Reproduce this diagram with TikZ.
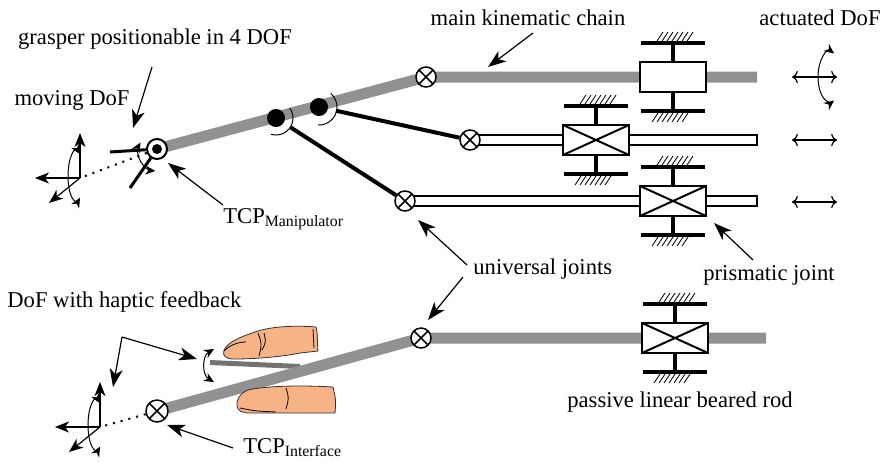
\documentclass[tikz,border=0pt]{standalone}
\usepackage{fontspec}
\setmainfont{Liberation Serif}
\usetikzlibrary{arrows.meta}

\definecolor{rodgray}{RGB}{145,145,145}
\definecolor{skin}{RGB}{247,178,133}

\pgfdeclarelayer{background}
\pgfsetlayers{background,main}

% linear guide fixed to the ground, centred at (#1,#2)
\newcommand\guide[2]{%
  \begin{scope}[shift={(#1,#2)}]
    \draw[guidebar] (0,-34) -- (0,34);
    \draw[guidebar] (-32,-34) -- (32,-34);
    \draw[guidebar] (-32,34) -- (32,34);
    \foreach \h in {-16,-11,...,14} \draw[hatchline] (\h,-36) -- ++(6,-9);
    \foreach \h in {-21,-16,...,9} \draw[hatchline] (\h,45) -- ++(6,-9);
    \draw[boxline] (-33,-15) rectangle (33,15);
  \end{scope}}
% same, with the crossed box
\newcommand\xguide[2]{%
  \guide{#1}{#2}
  \draw[boxline,shift={(#1,#2)}] (-33,-15) -- (33,15) (-33,15) -- (33,-15);}

% translations and rotation at a tool point, origin (#1,#2)
\newcommand\dofframe[2]{%
  \begin{scope}[shift={(#1,#2)}]
    \draw[dofarrow] (0,0) -- (0,-45);
    \draw[dofarrow] (0,0) -- (-45,0);
    \draw[dofarrow] (0,0) -- (-31,25);
    \draw[spin] ([shift={(60:4pt and 12.5pt)}]-4,-2)
      arc[start angle=60,end angle=300,x radius=4pt,y radius=12.5pt];
  \end{scope}}

\begin{document}
\begin{tikzpicture}[x=0.5pt,y=-0.5pt,
  font=\fontsize{11.3}{13}\selectfont,
  rod/.style={line width=5.5pt,rodgray},
  tube/.style={draw,line width=0.75pt,fill=white},
  link/.style={line width=2pt},
  jaw/.style={line width=1.5pt},
  ball/.style={circle,fill=black,inner sep=0pt,minimum size=9pt},
  tcp/.style={circle,draw,line width=1pt,fill=white,inner sep=0pt,minimum size=10pt},
  ujoint/.style={circle,draw,line width=0.75pt,fill=white,inner sep=0pt,minimum size=10pt,
    path picture={\draw[line width=0.75pt]
      (path picture bounding box.north west) -- (path picture bounding box.south east)
      (path picture bounding box.south west) -- (path picture bounding box.north east);}},
  guidebar/.style={line width=2pt},
  boxline/.style={line width=1pt,fill=white},
  hatchline/.style={line width=0.4pt},
  pointer/.style={line width=0.6pt,-{Stealth[length=9pt,width=6.5pt,inset=2.5pt]}},
  dofarrow/.style={line width=0.6pt,-{Stealth[length=7pt,width=5.5pt,inset=2pt]}},
  spin/.style={line width=0.5pt,{Stealth[length=5pt,width=4.5pt]}-{Stealth[length=5pt,width=4.5pt]}},
  dotline/.style={line width=1pt,dash pattern=on 1pt off 3pt},
  finger/.style={fill=skin,draw=black!80,line width=0.4pt}]

\useasboundingbox (0,0) rectangle (881,462);

% manipulator joints
\node[tcp] (tcpm) at (157,149) {};
\fill (tcpm) circle (2.5pt);
\node[ujoint] (u1) at (426,77) {};
\node[ujoint] (u2) at (470,140) {};
\node[ujoint] (u3) at (405,201) {};
\node[ball] (b1) at (276,118) {};
\node[ball] (b2) at (319,107) {};
\coordinate (endm) at (757,77);

% interface joints
\node[ujoint,minimum size=11pt] (tcpi) at (157,411) {};
\node[ujoint] (u4) at (421,338) {};
\coordinate (endi) at (766,338);

\begin{pgfonlayer}{background}
  \fill[black!55] (210,360) -- (300,364) -- (300,369) -- (210,365) -- cycle;
  \draw[rod] (tcpm.center) -- (u1.center) -- (endm);
  \draw[rod] (tcpi.center) -- (u4.center) -- (endi);
  \draw[tube] ([yshift=2.5pt]u2.center) rectangle (757,145);
  \draw[tube] ([yshift=2.5pt]u3.center) rectangle (757,206);
  \draw[link,shorten <=4pt] (b1) -- (u3);
  \draw[link,shorten <=4pt] (b2) -- (u2);
\end{pgfonlayer}

% revolute joints on the main chain
\draw[line width=0.5pt] ([shift={(-107:8.5pt)}]b1.center) arc[start angle=-107,end angle=36,radius=8.5pt];
\draw[line width=0.5pt] ([shift={(-93:9pt)}]b2.center) arc[start angle=-93,end angle=49,radius=9pt];

% guides
\guide{673}{77}
\xguide{596}{140}
\xguide{673}{201}
\xguide{675}{338}

% grasper
\coordinate (jaw1) at (110,152);
\coordinate (jaw2) at (130,188);
\draw[jaw] (jaw1) -- (tcpm);
\draw[jaw] (jaw2) -- (tcpm);
\draw[spin] ([shift={(150:9.5pt)}]157,152) arc[start angle=150,end angle=265,radius=9.5pt];
\coordinate (fm) at (80,178);
\draw[dotline] (tcpm) -- (fm);
\dofframe{80}{178}

% interface side
\coordinate (fi) at (100,427);
\draw[dotline] (tcpi) -- (fi);
\dofframe{100}{427}
\draw[spin] (214,349) .. controls (202,356) and (202,375) .. (214,382);

% fingers
\filldraw[finger] (316,327) .. controls (292,325) and (268,327) .. (255,332)
  .. controls (240,337) and (228,342) .. (224,350)
  .. controls (222,356) and (226,359) .. (234,359)
  .. controls (258,359) and (286,356) .. (300,353)
  -- (318,351) .. controls (317,342) and (318,334) .. (316,327) -- cycle;
\draw[line width=0.4pt] (258,333) .. controls (262,344) .. (259,356)
  (264,333) .. controls (266,342) .. (262,350)
  (313,329) -- (314,348)
  (224,351) .. controls (230,345) and (238,342) .. (246,342);
\filldraw[finger] (333,387) .. controls (300,385) and (265,386) .. (248,390)
  .. controls (240,393) and (236,400) .. (237,406)
  .. controls (238,411) and (242,413) .. (250,413)
  -- (335,413) .. controls (336,400) .. (333,387) -- cycle;
\draw[line width=0.4pt] (286,388) .. controls (289,398) .. (286,409)
  (240,408) .. controls (255,411) .. (276,412);

% actuated degrees of freedom
\draw[dofarrow,<->] (792,77) -- (837,77);
\draw[spin] ([shift={(70:6pt and 12.5pt)}]830,77) arc[start angle=70,end angle=290,x radius=6pt,y radius=12.5pt];
\draw[dofarrow,<->] (792,140) -- (837,140);
\draw[dofarrow,<->] (792,202) -- (837,202);

% labels
\node (lgrasp) at (155,39) {grasper positionable in 4 DOF};
\node (lmoving) at (72,100) {moving DoF};
\node[anchor=base west,inner sep=0pt] (ltcpm) at (223,223) {TCP\textsubscript{Manipulator}};
\node (lmain) at (528,18) {main kinematic chain};
\node (lact) at (820,18) {actuated DoF};
\node[anchor=west,inner sep=0pt] (luniv) at (473,269) {universal joints};
\node[anchor=west,inner sep=0pt] (lprism) at (703,275) {prismatic joint};
\node[anchor=west,inner sep=0pt] (lhaptic) at (7,302) {DoF with haptic feedback};
\node (lpassive) at (680,402) {passive linear beared rod};
\node[anchor=base west,inner sep=0pt] (ltcpi) at (243,453) {TCP\textsubscript{Interface}};

% pointers
\coordinate (pg0) at (152,67);   \coordinate (pg1) at (133,128);
\coordinate (pt0) at (223,205);  \coordinate (pt1) at (168,163);
\coordinate (pm0) at (533,33);   \coordinate (pm1) at (488,67);
\coordinate (pu0) at (467,265);  \coordinate (pu1) at (418,220);
\coordinate (pu2) at (463,277);  \coordinate (pu3) at (428,320);
\coordinate (pp0) at (753,260);  \coordinate (pp1) at (714,223);
\coordinate (ph0) at (122,337);  \coordinate (ph1) at (197,359);
\coordinate (ph2) at (113,387);
\coordinate (pi0) at (233,448);  \coordinate (pi1) at (167,425);
\draw[pointer] (pg0) -- (pg1);
\draw[pointer] (pt0) -- (pt1);
\draw[pointer] (pm0) -- (pm1);
\draw[pointer] (pu0) -- (pu1);
\draw[pointer] (pu2) -- (pu3);
\draw[pointer] (pp0) -- (pp1);
\draw[pointer] (ph0) -- (ph1);
\draw[pointer] (ph0) -- (ph2);
\draw[pointer] (pi0) -- (pi1);

\end{tikzpicture}
\end{document}
